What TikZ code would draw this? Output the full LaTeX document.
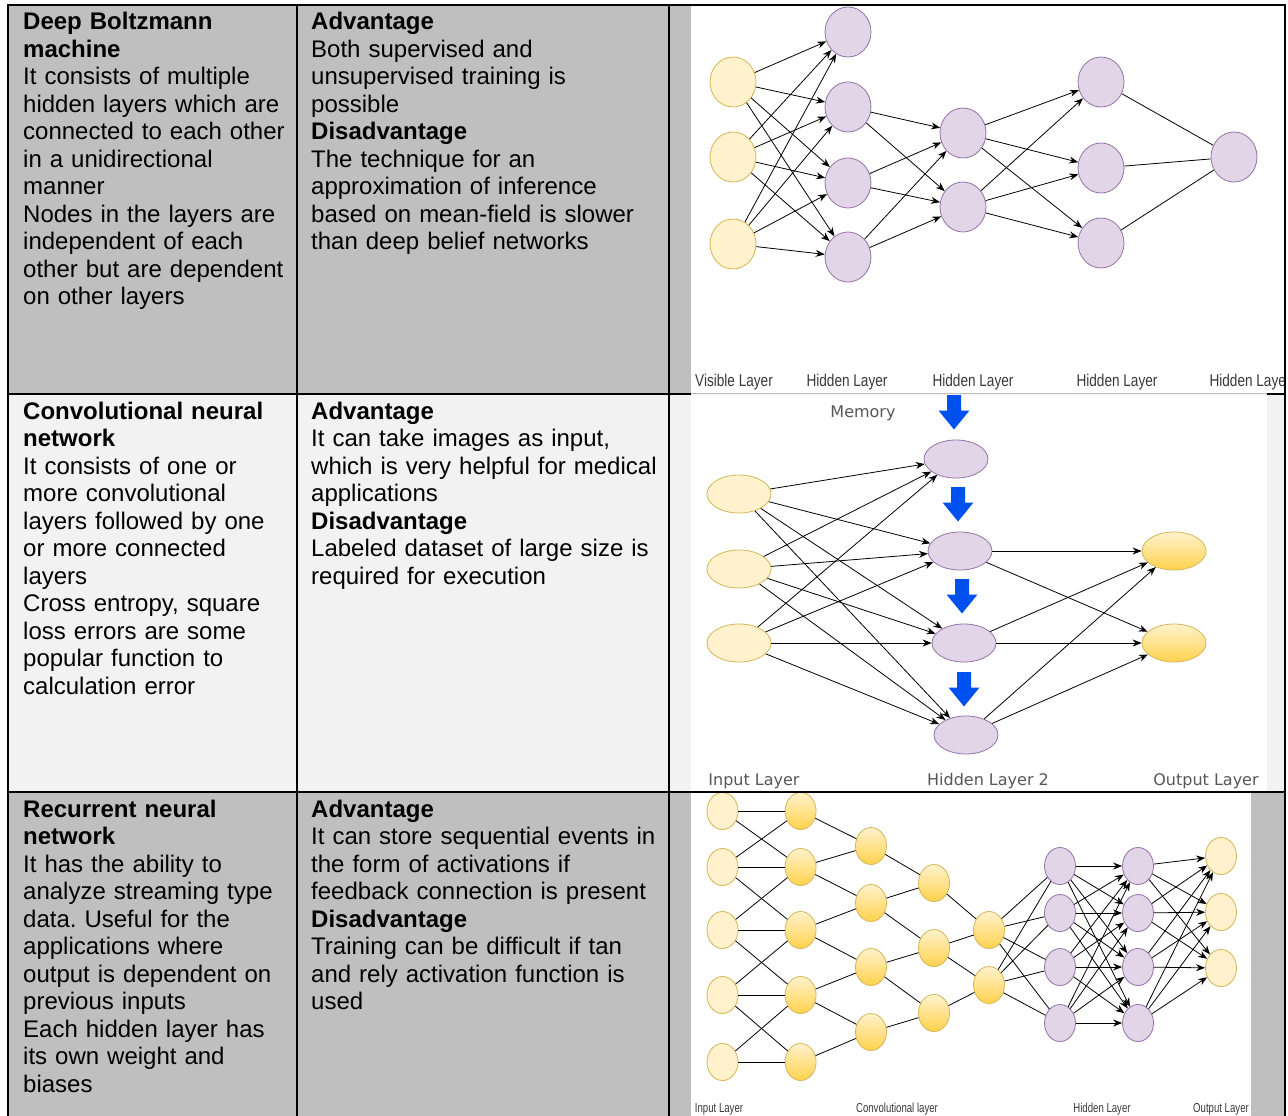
\documentclass[tikz,border=0pt]{standalone}
\usepackage{fontspec}
\setmainfont{Liberation Sans}
\newfontfamily\verdfont{DejaVu Sans}
\usepackage{tikz}
\usetikzlibrary{positioning}
\usetikzlibrary{shapes.geometric,arrows.meta}
\frenchspacing

\definecolor{CellGray}{HTML}{BFBFBF}
\definecolor{CellLight}{HTML}{F2F2F2}
\definecolor{NodeYellow}{HTML}{FFF2CC}
\definecolor{NodeYellowLine}{HTML}{D6B656}
\definecolor{NodeGold}{HTML}{FFD24D}
\definecolor{NodePurple}{HTML}{E1D5E7}
\definecolor{NodePurpleLine}{HTML}{9673A6}
\definecolor{MemBlue}{HTML}{0050EF}
\definecolor{LabelGray}{HTML}{3A3A3A}

\newcommand{\cellfont}{\fontsize{24}{27.5}\selectfont}

\begin{document}
\begin{tikzpicture}[x=1pt,y=-1pt,
	cell/.style={anchor=base west, inner sep=0pt, text width=370pt, align=left, font=\cellfont},
	yel/.style={ellipse, draw=NodeYellowLine, fill=NodeYellow, line width=0.8pt, inner sep=0pt},
	gold/.style={ellipse, draw=NodeYellowLine, top color=NodeYellow, bottom color=NodeGold, line width=0.8pt, inner sep=0pt},
	pur/.style={ellipse, draw=NodePurpleLine, fill=NodePurple, line width=0.8pt, inner sep=0pt},
	big/.style={minimum width=46pt, minimum height=50pt},
	wide/.style={minimum width=64pt, minimum height=38pt},
	small/.style={minimum width=31pt, minimum height=37pt},
	link/.style={draw=black, line width=0.8pt},
	arr/.style={link, -{Stealth[length=9pt,width=7pt]}},
	labA/.style={font=\fontsize{17}{17}\selectfont, text=LabelGray, xscale=0.8, inner sep=0pt},
	labB/.style={font=\verdfont\fontsize{16}{16}\selectfont, text=LabelGray!85, inner sep=0pt},
	labC/.style={font=\fontsize{13}{13}\selectfont, text=LabelGray, xscale=0.74, inner sep=0pt},
	rule/.style={line width=2pt, black}
]

	% ------------------------------------------------
	% Page size
	\useasboundingbox (0,0) rectangle (1288,1116);

	% ------------------------------------------------
	% Cell backgrounds and picture areas
	\fill[CellGray]  (8,5)   rectangle (1285,394);
	\fill[CellLight] (8,394) rectangle (1285,792);
	\fill[CellGray]  (8,792) rectangle (1285,1116);

	\fill[white] (691,6)   rectangle (1285,393);
	\fill[white] (691,395) rectangle (1267,791);
	\fill[white] (691,793) rectangle (1251,1116);

	% ------------------------------------------------
	% Texts
	\node[cell] (r1c1) at (23,30) {\textbf{Deep Boltzmann}\\\textbf{machine}\\It consists of multiple\\hidden layers which are\\connected to each other\\in a unidirectional\\manner\\Nodes in the layers are\\independent of each\\other but are dependent\\on other layers};
	\node[cell] (r1c2) at (311,30) {\textbf{Advantage}\\Both supervised and\\unsupervised training is\\possible\\\textbf{Disadvantage}\\The technique for an\\approximation of inference\\based on mean-field is slower\\than deep belief networks};

	\node[cell] (r2c1) at (23,419) {\textbf{Convolutional neural}\\\textbf{network}\\It consists of one or\\more convolutional\\layers followed by one\\or more connected\\layers\\Cross entropy, square\\loss errors are some\\popular function to\\calculation error};
	\node[cell] (r2c2) at (311,419) {\textbf{Advantage}\\It can take images as input,\\which is very helpful for medical\\applications\\\textbf{Disadvantage}\\Labeled dataset of large size is\\required for execution};

	\node[cell] (r3c1) at (23,817) {\textbf{Recurrent neural}\\\textbf{network}\\It has the ability to\\analyze streaming type\\data. Useful for the\\applications where\\output is dependent on\\previous inputs\\Each hidden layer has\\its own weight and\\biases};
	\node[cell] (r3c2) at (311,817) {\textbf{Advantage}\\It can store sequential events in\\the form of activations if\\feedback connection is present\\\textbf{Disadvantage}\\Training can be difficult if tan\\and rely activation function is\\used};

	% ------------------------------------------------
	% Deep Boltzmann machine
	\foreach \i/\y in {1/82,2/157,3/244} \node[yel,big] (Vis\i) at (733,\y) {};
	\foreach \i/\y in {1/32,2/107,3/183,4/257} \node[pur,big] (HidA\i) at (848,\y) {};
	\foreach \i/\y in {1/133,2/207} \node[pur,big] (HidB\i) at (963,\y) {};
	\foreach \i/\y in {1/82,2/168,3/243} \node[pur,big] (HidC\i) at (1101,\y) {};
	\node[pur,big] (HidD) at (1234,157) {};

	\foreach \i in {1,2,3} \foreach \j in {1,...,4} \draw[arr] (Vis\i) -- (HidA\j);
	\foreach \i in {2,3,4} \foreach \j in {1,2} \draw[arr] (HidA\i) -- (HidB\j);
	\foreach \i in {1,2} \foreach \j in {1,2,3} \draw[arr] (HidB\i) -- (HidC\j);
	\foreach \i in {1,2,3} \draw[link] (HidC\i) -- (HidD);

	\begin{scope}
		\clip (691,5) rectangle (1285,394);
		\node[labA] (labVis) at (734,382) {Visible Layer};
		\foreach \x [count=\k] in {847,973,1117,1250} \node[labA] (labHid\k) at (\x,382) {Hidden Layer};
	\end{scope}

	% ------------------------------------------------
	% Convolutional neural network
	\node[labB] (labMem) at (863,413) {Memory};
	\foreach \x/\y in {954/395,958/487,962/579,964/672}
		\fill[MemBlue] (\x,\y) ++(-7,0) -- ++(14,0) -- ++(0,15.5) -- ++(8.5,0) -- ++(-15.5,19) -- ++(-15.5,-19) -- ++(8.5,0) -- cycle;

	\foreach \i/\y in {1/494,2/569,3/643} \node[yel,wide] (Inp\i) at (739,\y) {};
	\foreach \i/\x/\y in {1/956/459,2/960/551,3/964/643,4/966/735} \node[pur,wide] (Mem\i) at (\x,\y) {};
	\foreach \i/\y in {1/551,2/643} \node[gold,wide] (Outp\i) at (1174,\y) {};

	\foreach \i in {1,2,3} \foreach \j in {1,...,4} \draw[arr] (Inp\i) -- (Mem\j);
	\foreach \i in {2,3,4} \foreach \j in {1,2} \draw[arr] (Mem\i) -- (Outp\j);

	\node[labB] (labInp) at (754,781) {Input Layer};
	\node[labB] (labMemH) at (988,781) {Hidden Layer 2};
	\node[labB] (labOutp) at (1206,781) {Output Layer};

	% ------------------------------------------------
	% Recurrent neural network
	\foreach \i/\y in {1/811,2/867,3/930,4/995,5/1062} {
		\node[yel,small] (In\i) at (722.5,\y) {};
		\node[gold,small] (ConvA\i) at (800.6,\y) {};
	}
	\foreach \i/\y in {1/846,2/903,3/967,4/1032} \node[gold,small] (ConvB\i) at (871,\y) {};
	\foreach \i/\y in {1/883,2/948,3/1013} \node[gold,small] (ConvC\i) at (934,\y) {};
	\foreach \i/\y in {1/930,2/985} \node[gold,small] (ConvD\i) at (989,\y) {};
	\foreach \i/\y in {1/866,2/913,3/967,4/1023} {
		\node[pur,small] (FcA\i) at (1060,\y) {};
		\node[pur,small] (FcB\i) at (1138,\y) {};
	}
	\foreach \i/\y in {1/856,2/912,3/968} \node[yel,small] (Out\i) at (1221,\y) {};

	\foreach \i/\j in {1/1,1/2,2/1,2/2,2/3,3/2,3/3,3/4,4/3,4/4,4/5,5/4,5/5} \draw[link] (In\i) -- (ConvA\j);
	\foreach \i/\j in {1/1,2/1,2/2,3/2,3/3,4/3,4/4,5/4} \draw[link] (ConvA\i) -- (ConvB\j);
	\foreach \i/\j in {1/1,2/1,2/2,3/2,3/3,4/3} \draw[link] (ConvB\i) -- (ConvC\j);
	\foreach \i/\j in {1/1,2/1,2/2,3/2} \draw[link] (ConvC\i) -- (ConvD\j);
	\foreach \i in {1,2} \foreach \j in {1,...,4} \draw[link] (ConvD\i) -- (FcA\j);
	\foreach \i in {1,...,4} \foreach \j in {1,...,4} \draw[arr] (FcA\i) -- (FcB\j);
	\foreach \i in {1,...,4} \foreach \j in {1,2,3} \draw[arr] (FcB\i) -- (Out\j);

	\node[labC] (labIn) at (719,1109) {Input Layer};
	\node[labC] (labConv) at (897,1109) {Convolutional layer};
	\node[labC] (labFc) at (1102,1109) {Hidden Layer};
	\node[labC] (labOut) at (1221,1109) {Output Layer};

	% ------------------------------------------------
	% Table rules
	\draw[rule] (8,1116) -- (8,5) -- (1285,5) -- (1285,1116);
	\draw[rule] (297,5) -- (297,1116);
	\draw[rule] (669,5) -- (669,1116);
	\draw[rule] (8,394) -- (691,394);
	\draw[rule] (1267,394) -- (1285,394);
	\draw[rule] (8,792) -- (1285,792);

\end{tikzpicture}
\end{document}
